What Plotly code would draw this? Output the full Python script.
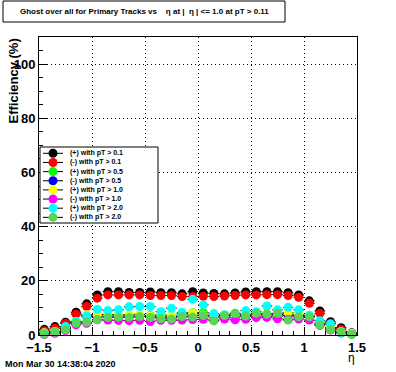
import plotly.graph_objects as go

# ---------------- data ----------------
eta = [-1.45, -1.35, -1.25, -1.15, -1.05, -0.95, -0.85, -0.75, -0.65, -0.55,
       -0.45, -0.35, -0.25, -0.15, -0.05, 0.05, 0.15, 0.25, 0.35, 0.45,
       0.55, 0.65, 0.75, 0.85, 0.95, 1.05, 1.15, 1.25, 1.35, 1.45]
eta_halfwidth = [0.05] * 30

pos_pt01 = [2.1, 3.1, 4.7, 8.4, 11.5, 14.8, 16.0, 16.0, 15.7, 15.7,
            15.9, 15.6, 15.6, 15.2, 16.0, 15.5, 15.3, 15.2, 15.5, 15.9,
            16.0, 16.0, 16.0, 15.6, 14.8, 12.6, 8.9, 4.9, 2.7, 0.8]
neg_pt01 = [1.6, 2.5, 4.3, 7.7, 10.5, 13.6, 14.8, 14.8, 14.8, 14.8,
            14.6, 14.6, 14.6, 14.2, 14.2, 14.3, 14.2, 14.4, 14.6, 14.8,
            14.8, 14.9, 14.9, 14.6, 13.9, 11.7, 8.0, 4.3, 2.1, 0.6]
pos_pt05 = [0.8, 1.2, 2.5, 5.0, 7.3, 7.5, 7.6, 7.4, 7.4, 7.5,
            7.2, 7.3, 7.0, 7.9, 8.2, 8.3, 7.0, 7.2, 7.4, 7.6,
            7.6, 7.8, 7.6, 7.8, 7.2, 7.0, 4.5, 2.8, 1.3, 0.5]
neg_pt05 = [0.6, 1.0, 2.2, 4.6, 6.8, 6.8, 6.9, 6.6, 6.8, 6.9,
            6.7, 6.6, 6.4, 6.8, 7.3, 7.2, 6.6, 6.5, 6.6, 6.9,
            7.0, 7.0, 6.9, 7.2, 6.7, 6.6, 4.0, 2.3, 1.0, 0.4]
pos_pt10 = [0.8, 1.3, 2.6, 5.0, 7.5, 7.4, 7.5, 7.3, 7.4, 7.6,
            7.0, 7.4, 6.9, 7.6, 8.0, 7.4, 6.8, 7.0, 7.2, 7.4,
            7.4, 7.5, 7.4, 8.3, 7.5, 6.8, 4.3, 2.6, 1.2, 0.6]
neg_pt10 = [0.2, 0.6, 1.6, 3.8, 4.3, 5.6, 5.5, 5.4, 5.3, 5.4,
            5.0, 5.4, 5.4, 5.5, 5.7, 5.8, 5.5, 5.9, 5.6, 5.8,
            6.4, 6.5, 6.0, 5.8, 5.9, 5.5, 3.5, 1.8, 0.7, 0.3]
pos_pt20 = [0.6, 1.2, 3.1, 4.9, 7.0, 9.5, 9.0, 9.3, 10.4, 10.5,
            10.5, 8.6, 9.9, 8.3, 13.2, 11.1, 7.9, 7.5, 8.0, 9.0,
            8.6, 10.7, 9.3, 10.2, 9.3, 7.3, 5.3, 4.1, 0.8, 0.3]
neg_pt20 = [0.3, 1.0, 1.9, 4.3, 4.7, 5.6, 6.5, 6.5, 6.5, 6.8,
            6.5, 6.0, 5.9, 6.8, 6.6, 7.2, 5.2, 7.2, 8.0, 7.0,
            8.0, 7.7, 8.0, 5.5, 6.7, 6.7, 3.7, 1.9, 1.0, 0.2]

series_names = ["(+) with pT > 0.1", "(-) with pT > 0.1", "(+) with pT > 0.5", "(-) with pT > 0.5",
                "(+) with pT > 1.0", "(-) with pT > 1.0", "(+) with pT > 2.0", "(-) with pT > 2.0"]
series_values = [pos_pt01, neg_pt01, pos_pt05, neg_pt05, pos_pt10, neg_pt10, pos_pt20, neg_pt20]
series_colors = ["#000000", "#ff0000", "#00ff00", "#0000ff",
                 "#ffff00", "#ff00ff", "#00ffff", "#59d454"]

x_ticks = [-1.5, -1, -0.5, 0, 0.5, 1, 1.5]
x_ticklabels = ["\u22121.5", "\u22121", "\u22120.5", "0", "0.5", "1", "1.5"]
y_ticks = [0, 20, 40, 60, 80, 100]

title_text = "Ghost over all for Primary Tracks vs    \u03b7 at |  \u03b7 | <= 1.0 at pT > 0.11"
date_text = "Mon Mar 30 14:38:04 2020"

# ---------------- layout geometry (pixels) ----------------
W, H = 396, 372
L, R, T, B = 39, 357, 37, 335
PW, PH = R - L, B - T


def px(xp):
    return (xp - L) / PW


def py(yp):
    return (B - yp) / PH


FONT = "Liberation Sans"

fig = go.Figure()
for name, vals, col in zip(series_names, series_values, series_colors):
    fig.add_trace(go.Scatter(
        x=eta, y=vals, mode="markers", name=name, showlegend=False,
        marker=dict(color=col, size=9, line=dict(width=0)),
        error_x=dict(type="data", array=eta_halfwidth, color="black", thickness=1, width=0),
        cliponaxis=False,
    ))

shapes = []
annotations = []

# title box
shapes.append(dict(type="rect", xref="paper", yref="paper",
                   x0=px(3), x1=px(285), y0=py(22), y1=py(1),
                   line=dict(color="black", width=1), fillcolor="white"))
annotations.append(dict(xref="paper", yref="paper", x=px(144), y=py(11.5),
                        text=title_text, showarrow=False, xanchor="center", yanchor="middle",
                        font=dict(family=FONT, size=8, color="black", weight="bold")))

# legend box
shapes.append(dict(type="rect", xref="paper", yref="paper", layer="above",
                   x0=px(40), x1=px(158), y0=py(223), y1=py(147),
                   line=dict(color="black", width=1), fillcolor="white"))
for i, (name, col) in enumerate(zip(series_names, series_colors)):
    yy = 153.3 + 9.15 * i
    shapes.append(dict(type="line", xref="paper", yref="paper", layer="above",
                       x0=px(43), x1=px(63), y0=py(yy), y1=py(yy),
                       line=dict(color="black", width=1)))
    shapes.append(dict(type="circle", xref="paper", yref="paper", layer="above",
                       xsizemode="pixel", ysizemode="pixel",
                       xanchor=px(53), yanchor=py(yy),
                       x0=-4.5, x1=4.5, y0=-4.5, y1=4.5,
                       line=dict(width=0), fillcolor=col))
    annotations.append(dict(xref="paper", yref="paper", x=px(68), y=py(yy),
                            text=name, showarrow=False, xanchor="left", yanchor="middle",
                            font=dict(family=FONT, size=7, color="black", weight="bold")))

# axis titles and date
annotations.append(dict(xref="paper", yref="paper", x=px(13), y=py(37),
                        text="Efficiency (%)", textangle=-90, showarrow=False,
                        xanchor="center", yanchor="top",
                        font=dict(family=FONT, size=13, color="black", weight="bold")))
annotations.append(dict(xref="paper", yref="paper", x=px(351), y=py(358),
                        text="\u03b7", showarrow=False, xanchor="center", yanchor="middle",
                        font=dict(family=FONT, size=12, color="black")))
annotations.append(dict(xref="paper", yref="paper", x=px(3), y=py(364),
                        text=date_text, showarrow=False, xanchor="left", yanchor="middle",
                        font=dict(family=FONT, size=9, color="black", weight="bold")))

fig.update_layout(
    width=W, height=H,
    margin=dict(l=L, r=W - R, t=T, b=H - B, pad=0),
    paper_bgcolor="white", plot_bgcolor="white",
    shapes=shapes, annotations=annotations,
    showlegend=False,
    xaxis=dict(range=[-1.5, 1.5], tickvals=x_ticks, ticktext=x_ticklabels,
               ticks="inside", ticklen=8, tickcolor="black", tickwidth=1,
               minor=dict(dtick=0.1, ticks="inside", ticklen=4, tickcolor="black", showgrid=False),
               showline=True, linecolor="black", linewidth=1, mirror=True,
               showgrid=True, gridcolor="black", griddash="1px,3px", gridwidth=1,
               zeroline=False,
               tickfont=dict(family=FONT, size=13, color="black", weight="bold")),
    yaxis=dict(range=[0, 110], tickvals=y_ticks,
               ticks="inside", ticklen=8, tickcolor="black", tickwidth=1,
               minor=dict(dtick=5, ticks="inside", ticklen=4, tickcolor="black", showgrid=False),
               showline=True, linecolor="black", linewidth=1, mirror=True,
               showgrid=True, gridcolor="black", griddash="1px,3px", gridwidth=1,
               zeroline=False,
               tickfont=dict(family=FONT, size=13, color="black", weight="bold")),
)

fig.write_html("out.html", config={"displayModeBar": False},
               post_script="document.body.style.margin='0';document.body.style.padding='0';")
